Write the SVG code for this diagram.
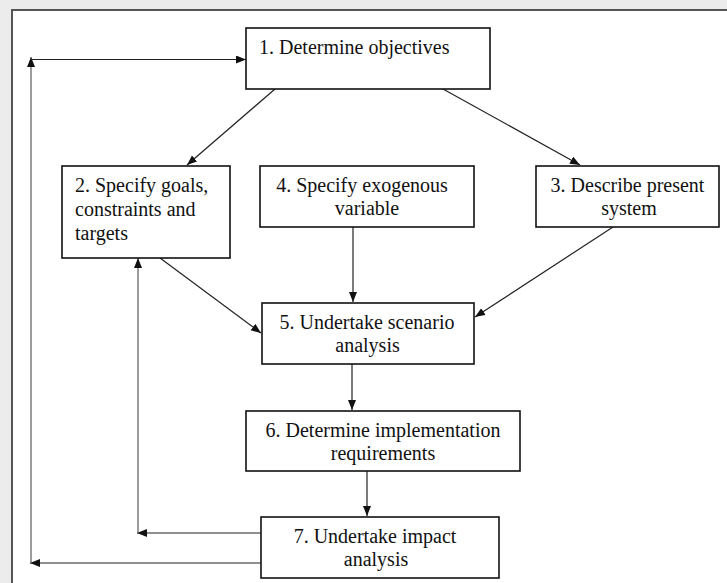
<svg xmlns="http://www.w3.org/2000/svg" width="727" height="583" viewBox="0 0 727 583">
<style>
.box{fill:#fff;stroke:#111;stroke-width:1.6}
.t{font-family:"Liberation Serif","Times New Roman",serif;font-size:20px;fill:#111}
.m{text-anchor:middle}
.c{fill:none;stroke:#222;stroke-width:1.2}
.g{fill:none;stroke:#666;stroke-width:1.3}
</style>
<defs>
<marker id="ah" markerUnits="userSpaceOnUse" markerWidth="11" markerHeight="9" refX="10" refY="4" orient="auto">
<path d="M0,0 L10,4 L0,8 z" fill="#111"/>
</marker>
</defs>
<rect x="0" y="0" width="727" height="583" fill="#ececec"/>
<rect x="12" y="10" width="730" height="590" fill="#fff" stroke="#555" stroke-width="2"/>
<g id="connectors">
<line class="c" x1="275" y1="89" x2="187" y2="165" marker-end="url(#ah)"/>
<line class="c" x1="443" y1="89" x2="580" y2="165" marker-end="url(#ah)"/>
<line class="c" x1="160" y1="258" x2="261" y2="333" marker-end="url(#ah)"/>
<line class="c" x1="353" y1="227" x2="353" y2="302" marker-end="url(#ah)"/>
<line class="c" x1="613" y1="227" x2="475" y2="317" marker-end="url(#ah)"/>
<line class="c" x1="352" y1="364" x2="352" y2="410" marker-end="url(#ah)"/>
<line class="c" x1="367" y1="471" x2="367" y2="516" marker-end="url(#ah)"/>
<line class="c" x1="261" y1="533" x2="137" y2="533" marker-end="url(#ah)"/>
<line class="g" x1="138" y1="533" x2="138" y2="258" marker-end="url(#ah)"/>
<line class="c" x1="261" y1="563" x2="30" y2="563" marker-end="url(#ah)"/>
<line class="g" x1="31" y1="563" x2="31" y2="57" marker-end="url(#ah)"/>
<line class="c" x1="31" y1="59.5" x2="246" y2="59.5" marker-end="url(#ah)"/>
</g>
<g id="n1">
<rect class="box" x="246" y="28" width="244" height="61"/>
<text class="t" x="259" y="54">1. Determine objectives</text>
</g>
<g id="n2">
<rect class="box" x="62" y="166" width="168" height="92"/>
<text class="t" x="75" y="192">2. Specify goals,</text>
<text class="t" x="75" y="216">constraints and</text>
<text class="t" x="75" y="240">targets</text>
</g>
<g id="n4">
<rect class="box" x="260" y="166" width="214" height="61"/>
<text class="t m" x="362" y="192">4. Specify exogenous</text>
<text class="t m" x="367" y="215">variable</text>
</g>
<g id="n3">
<rect class="box" x="536" y="166" width="183" height="61"/>
<text class="t m" x="627.5" y="192">3. Describe present</text>
<text class="t m" x="629" y="215">system</text>
</g>
<g id="n5">
<rect class="box" x="262" y="303" width="212" height="61"/>
<text class="t m" x="367" y="329">5. Undertake scenario</text>
<text class="t m" x="367.5" y="352">analysis</text>
</g>
<g id="n6">
<rect class="box" x="246" y="411" width="274" height="60"/>
<text class="t m" x="383" y="437">6. Determine implementation</text>
<text class="t m" x="383" y="460">requirements</text>
</g>
<g id="n7">
<rect class="box" x="261" y="517" width="238" height="61"/>
<text class="t m" x="375" y="543">7. Undertake impact</text>
<text class="t m" x="376" y="566">analysis</text>
</g>
</svg>
